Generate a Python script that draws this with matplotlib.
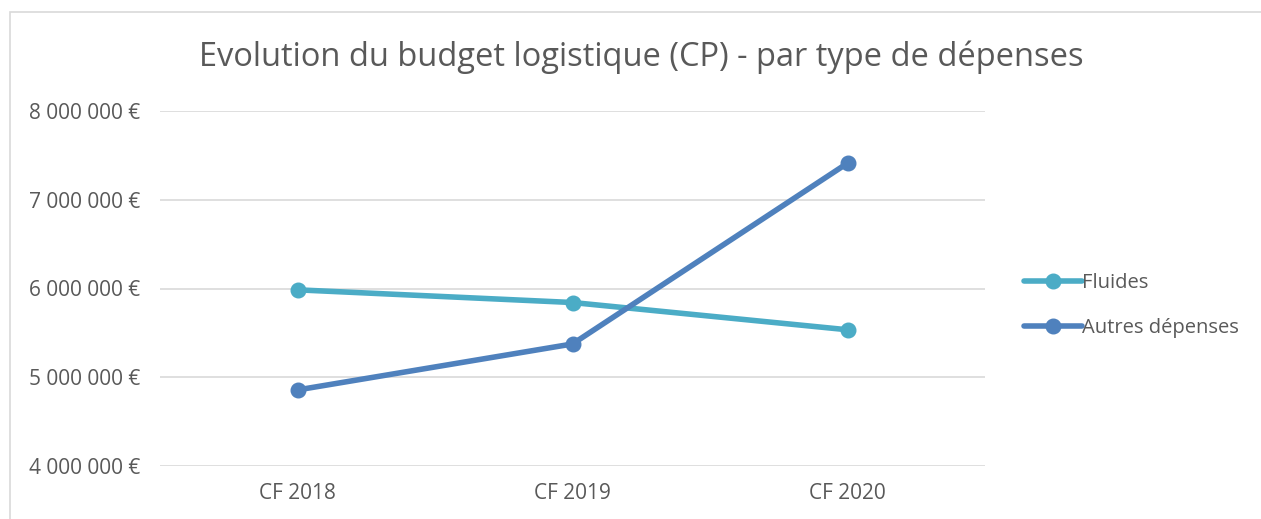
import matplotlib
matplotlib.use("Agg")
import matplotlib.pyplot as plt
from matplotlib.patches import Rectangle
from matplotlib.ticker import FuncFormatter

categories = ["CF 2018", "CF 2019", "CF 2020"]
fluides = [5985000, 5842000, 5535000]
autres = [4857000, 5375000, 7412000]
series_names = ["Fluides", "Autres dépenses"]
yticks = [4000000, 5000000, 6000000, 7000000, 8000000]

plt.rcParams['font.family'] = ['Open Sans', 'DejaVu Sans']
txt = '#595959'

fig = plt.figure(figsize=(12.61, 5.19), dpi=100)
# outer chart frame
fig.patches.append(Rectangle((10/1261, -0.1), 1.2, 1 - 12/519 + 0.1, transform=fig.transFigure,
                             fill=False, edgecolor='#d9d9d9', linewidth=1.2))

ax = fig.add_axes([160/1261, 1 - 466/519, (985 - 160)/1261, (466 - 111)/519])
x = list(range(len(categories)))
l1, = ax.plot(x, fluides, color='#4BACC6', lw=4, marker='o', ms=10.5, label=series_names[0], solid_capstyle='round')
l2, = ax.plot(x, autres, color='#4F81BD', lw=4, marker='o', ms=10.5, label=series_names[1], solid_capstyle='round')

ax.set_xlim(-0.5, 2.5)
ax.set_ylim(4000000, 8000000)
ax.set_yticks(yticks)
ax.yaxis.set_major_formatter(FuncFormatter(lambda v, p: f"{int(v):,}".replace(",", " ") + " €"))
ax.set_xticks(x)
ax.set_xticklabels(categories)
ax.grid(axis='y', color='#d9d9d9', lw=1.2)
ax.set_axisbelow(True)
for s in ax.spines.values():
    s.set_visible(False)
ax.tick_params(axis='y', length=0, labelsize=15, labelcolor=txt, pad=14)
ax.tick_params(axis='x', length=0, labelsize=15, labelcolor=txt, pad=12)

fig.text(641/1261, 1 - 57/519, "Evolution du budget logistique (CP) - par type de dépenses",
         ha='center', va='center', fontsize=23.5, color=txt)

fig.legend(handles=[l1, l2], loc='center left', bbox_to_anchor=(1006/1261, 1 - 305.5/519),
           frameon=False, fontsize=14.5, labelcolor=txt, handlelength=2.85, handletextpad=0.0,
           labelspacing=1.2)

fig.savefig("out.png", dpi=100, facecolor='white')
